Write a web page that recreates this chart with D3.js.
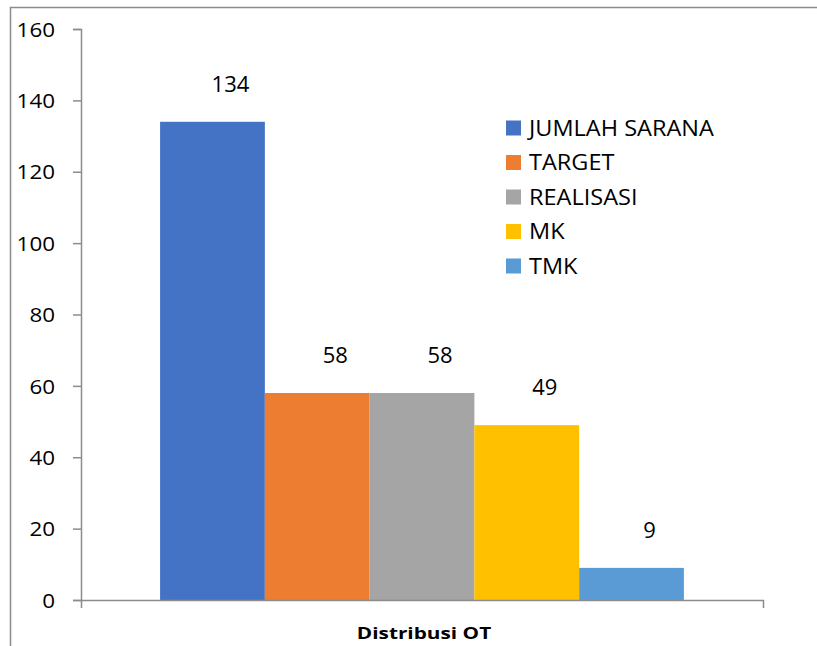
<!DOCTYPE html>
<html>
<head>
<meta charset="utf-8">
<script src="https://cdn.jsdelivr.net/npm/d3@7"></script>
<style>
  html, body { margin: 0; padding: 0; background: #fff; }
  svg { display: block; font-family: "Open Sans", "Liberation Sans", sans-serif; }
</style>
</head>
<body>
<div id="chart"></div>
<script>
// --- Data ---
const category = "Distribusi OT";
const seriesNames = ["JUMLAH SARANA", "TARGET", "REALISASI", "MK", "TMK"];
const seriesValues = [134, 58, 58, 49, 9];
const seriesColors = ["#4472C4", "#ED7D31", "#A5A5A5", "#FFC000", "#5B9BD5"];
const yTicks = [0, 20, 40, 60, 80, 100, 120, 140, 160];

const width = 817, height = 646;
const margin = { top: 29, right: 54, bottom: 46, left: 81 };
const axisColor = "#8c8c8c";

const svg = d3.select("#chart").append("svg")
  .attr("width", width)
  .attr("height", height);

// chart frame (only left and top edges visible in the crop)
svg.append("path")
  .attr("d", `M10.5,${height} V7.5 H${width}`)
  .attr("fill", "none")
  .attr("stroke", axisColor)
  .attr("stroke-width", 1.5);

const x0 = d3.scaleBand()
  .domain([category])
  .range([margin.left, width - margin.right])
  .paddingInner(0)
  .paddingOuter(0.151);

const x1 = d3.scaleBand()
  .domain(seriesNames)
  .range([0, x0.bandwidth()]);

const y = d3.scaleLinear()
  .domain([0, 160])
  .range([height - margin.bottom, margin.top]);

// the source picture is a little wider than tall, so text is stretched sideways
function stretched(sel, sx) {
  sel.each(function () {
    const t = d3.select(this);
    const tx = +t.attr("x") || 0, ty = +t.attr("y") || 0;
    t.attr("x", 0).attr("y", 0)
      .attr("transform", `translate(${tx},${ty}) scale(${sx},1)`);
  });
}

// bars
const bars = seriesNames.map((name, i) => ({ name, value: seriesValues[i], color: seriesColors[i] }));

svg.append("g")
  .selectAll("rect")
  .data(bars)
  .join("rect")
  .attr("x", d => x0(category) + x1(d.name))
  .attr("y", d => y(d.value))
  .attr("width", x1.bandwidth())
  .attr("height", d => y(0) - y(d.value))
  .attr("fill", d => d.color);

// data labels
svg.append("g")
  .attr("font-size", 22)
  .attr("text-anchor", "middle")
  .selectAll("text")
  .data(bars)
  .join("text")
  .attr("x", d => x0(category) + x1(d.name) + x1.bandwidth() / 2 + 18)
  .attr("y", d => y(d.value) - 30)
  .attr("fill", "#000")
  .text(d => d.value);

// y axis
const yAxis = svg.append("g")
  .attr("transform", `translate(${margin.left},0)`)
  .call(d3.axisLeft(y).tickValues(yTicks).tickSize(8).tickPadding(18));
yAxis.select(".domain").attr("stroke", axisColor).attr("stroke-width", 1.5);
yAxis.selectAll(".tick line").attr("stroke", axisColor).attr("stroke-width", 1.5);
yAxis.selectAll(".tick text")
  .attr("font-size", 20)
  .attr("fill", "#000")
  .attr("font-family", "Open Sans, sans-serif")
  .attr("dy", "0.36em")
  .call(stretched, 1.12);

// x axis line with end ticks
const xAxis = svg.append("g")
  .attr("transform", `translate(0,${y(0)})`)
  .call(d3.axisBottom(x0).tickValues([]).tickSizeOuter(8));
xAxis.select(".domain").attr("stroke", axisColor).attr("stroke-width", 1.5);

// category label
svg.append("text")
  .attr("x", x0(category) + x0.bandwidth() / 2 + 2)
  .attr("y", 639)
  .attr("text-anchor", "middle")
  .attr("font-size", 16)
  .attr("font-weight", "bold")
  .attr("fill", "#000")
  .text(category)
  .call(stretched, 1.3);

// legend
const legend = svg.append("g")
  .attr("transform", "translate(506,128)");
const item = legend.selectAll("g")
  .data(bars)
  .join("g")
  .attr("transform", (d, i) => `translate(0,${i * 34.5})`);
item.append("rect")
  .attr("x", 0).attr("y", -7.5)
  .attr("width", 15).attr("height", 15)
  .attr("fill", d => d.color);
item.append("text")
  .attr("x", 23)
  .attr("y", 0)
  .attr("dy", "0.36em")
  .attr("font-size", 21)
  .attr("fill", "#000")
  .text(d => d.name)
  .call(stretched, 1.12);
</script>
</body>
</html>
